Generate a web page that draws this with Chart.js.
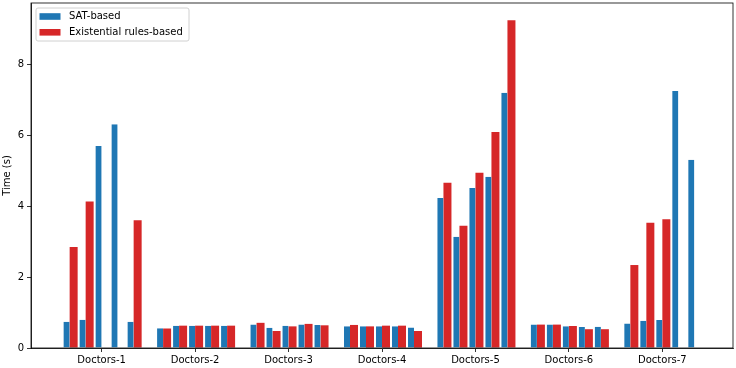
<!DOCTYPE html>
<html>
<head>
<meta charset="utf-8">
<script src="https://cdn.jsdelivr.net/npm/chart.js@4.4.1/dist/chart.umd.min.js"></script>
<style>
  html, body { margin: 0; padding: 0; background: #fff; }
  #wrap { width: 736px; height: 368px; }
</style>
</head>
<body>
<div id="wrap"><canvas id="myChart" width="736" height="368"></canvas></div>
<script>
// categories and timings (5 runs per category, null = no bar)
const categories = ['Doctors-1', 'Doctors-2', 'Doctors-3', 'Doctors-4', 'Doctors-5', 'Doctors-6', 'Doctors-7'];
const satBased = [
    [0.74, 0.80, 5.70, 6.31, 0.74],
    [0.56, 0.63, 0.63, 0.63, 0.63],
    [0.66, 0.57, 0.63, 0.66, 0.65],
    [0.61, 0.61, 0.61, 0.61, 0.58],
    [4.23, 3.14, 4.51, 4.83, 7.20],
    [0.66, 0.66, 0.61, 0.59, 0.60],
    [0.69, 0.77, 0.79, 7.25, 5.31]
];
const existentialBased = [
    [2.85, 4.13, null, null, 3.60],
    [0.55, 0.63, 0.63, 0.63, 0.63],
    [0.71, 0.48, 0.61, 0.68, 0.64],
    [0.65, 0.61, 0.63, 0.63, 0.48],
    [4.66, 3.45, 4.94, 6.09, 9.24],
    [0.66, 0.66, 0.62, 0.53, 0.53],
    [2.34, 3.53, 3.63, null, null]
];
const yTicks = [0, 2, 4, 6, 8];
const seriesNames = ['SAT-based', 'Existential rules-based'];
const blue = '#1f77b4';
const red = '#d62728';
const font = 'DejaVu Sans';

const datasets = [];
for (var r = 0; r < 5; r++) {
    datasets.push({
        label: seriesNames[0],
        data: categories.map((c, i) => ({ x: i, y: satBased[i][r] })),
        backgroundColor: blue,
        borderColor: '#ffffff',
        borderWidth: { left: 2, right: 0, top: 0, bottom: 0 },
        borderSkipped: false
    });
    datasets.push({
        label: seriesNames[1],
        data: categories.map((c, i) => ({ x: i, y: existentialBased[i][r] })),
        backgroundColor: red,
        borderWidth: 0
    });
}

// box around plot + legend inside top-left
const framePlugin = {
    id: 'frame',
    afterDraw(chart) {
        const ctx = chart.ctx;
        const a = chart.chartArea;
        ctx.save();
        ctx.strokeStyle = '#000';
        ctx.lineWidth = 0.8;
        ctx.strokeRect(a.left, a.top, a.right - a.left, a.bottom - a.top);

        // legend
        const x = a.left + 5, y = a.top + 5, w = 153, h = 33;
        ctx.fillStyle = 'rgba(255,255,255,0.8)';
        ctx.strokeStyle = '#d0d0d0';
        ctx.lineWidth = 1;
        ctx.beginPath();
        ctx.roundRect(x, y, w, h, 2);
        ctx.fill();
        ctx.stroke();
        ctx.font = '10px "' + font + '"';
        ctx.textBaseline = 'middle';
        [blue, red].forEach((col, k) => {
            const cy = y + 8.5 + k * 15.8;
            ctx.fillStyle = col;
            ctx.fillRect(x + 3.5, cy - 3.3, 21, 6.6);
            ctx.fillStyle = '#000';
            ctx.fillText(seriesNames[k], x + 33, cy);
        });
        ctx.restore();
    }
};

const ctx = document.getElementById('myChart').getContext('2d');
const myChart = new Chart(ctx, {
    type: 'bar',
    data: { datasets: datasets },
    options: {
        responsive: false,
        animation: false,
        layout: { padding: { top: 3, right: 3, left: 0, bottom: 0 } },
        categoryPercentage: 0.856,
        barPercentage: 1.0,
        plugins: {
            legend: { display: false },
            tooltip: { enabled: false }
        },
        scales: {
            x: {
                type: 'linear',
                offset: false,
                min: -0.756,
                max: 6.756,
                afterBuildTicks: axis => { axis.ticks = categories.map((c, i) => ({ value: i })); },
                afterFit: axis => { axis.height = 20; axis.paddingLeft = 0; axis.paddingRight = 0; },
                ticks: {
                    callback: v => categories[v],
                    color: '#000',
                    font: { family: font, size: 10 },
                    padding: 2,
                    maxRotation: 0,
                    autoSkip: false
                },
                grid: { offset: false, drawOnChartArea: false, drawTicks: true, tickLength: 4, color: '#000', lineWidth: 0.8 },
                border: { display: true, color: '#000', width: 0.8 }
            },
            y: {
                min: 0,
                max: 9.73,
                afterBuildTicks: axis => { axis.ticks = yTicks.map(v => ({ value: v })); },
                afterFit: axis => { axis.width = 31; axis.paddingTop = 0; axis.paddingBottom = 0; },
                ticks: {
                    color: '#000',
                    font: { family: font, size: 10 },
                    padding: 3
                },
                title: {
                    display: true,
                    text: 'Time (s)',
                    color: '#000',
                    font: { family: font, size: 10 },
                    padding: { top: 1, bottom: 0 }
                },
                grid: { drawOnChartArea: false, drawTicks: true, tickLength: 4, color: '#000', lineWidth: 0.8 },
                border: { display: true, color: '#000', width: 0.8 }
            }
        }
    },
    plugins: [framePlugin]
});
</script>
</body>
</html>
